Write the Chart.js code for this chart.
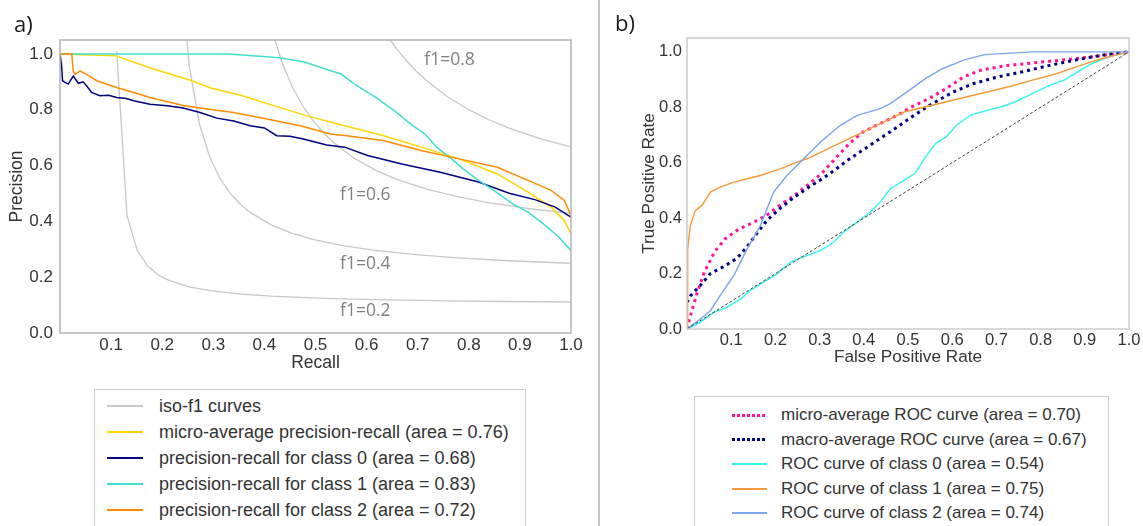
<!DOCTYPE html>
<html>
<head>
<meta charset="utf-8">
<script src="https://cdn.jsdelivr.net/npm/chart.js@4.4.1/dist/chart.umd.min.js"></script>
<style>
  html, body { margin: 0; padding: 0; background: #fff; }
  body { width: 1143px; height: 526px; position: relative; overflow: hidden; font-family: "Liberation Sans", Arial, sans-serif; }
  #prWrap { position: absolute; left: 0; top: 0; width: 598px; height: 380px; }
  #rocWrap { position: absolute; left: 600px; top: 0; width: 543px; height: 380px; }
  .divider { position: absolute; left: 598px; top: 0; width: 1.5px; height: 526px; background: #c8c8c8; }
  .tag { position: absolute; font-family: "Open Sans", sans-serif; font-size: 22px; line-height: 1; color: #1a1a1a; }
  .legend { position: absolute; border: 1px solid #cfcfcf; background: #fff; color: #333; }
  .legend .row { display: flex; align-items: center; white-space: nowrap; }
  .legend .swatch { display: block; flex: none; }
</style>
</head>
<body>
<div id="prWrap"><canvas id="prChart" width="598" height="380"></canvas></div>
<div id="rocWrap"><canvas id="rocChart" width="543" height="380"></canvas></div>
<div class="divider"></div>
<div class="tag" style="left:14px;top:12px">a)</div>
<div class="tag" style="left:615px;top:11px">b)</div>
<div class="legend" id="prLegend" style="left:94px;top:389px;width:430px;height:150px;padding-top:3px"></div>
<div class="legend" id="rocLegend" style="left:694px;top:396px;width:413px;height:140px;padding-top:6px"></div>

<script>
// ---- ticks ----
const xTicks = [0.1, 0.2, 0.3, 0.4, 0.5, 0.6, 0.7, 0.8, 0.9, 1.0];
const yTicks = [0.0, 0.2, 0.4, 0.6, 0.8, 1.0];

// ---- a) precision-recall ----
const prLabels = [
  'iso-f1 curves',
  'micro-average precision-recall (area = 0.76)',
  'precision-recall for class 0 (area = 0.68)',
  'precision-recall for class 1 (area = 0.83)',
  'precision-recall for class 2 (area = 0.72)'
];

const iso02X = [0.111, 0.1312, 0.1514, 0.1716, 0.1918, 0.212, 0.2524, 0.2929, 0.3535, 0.4141, 0.5151, 0.6161, 0.7576, 0.8788, 1.0];
const iso02Y = [1.009, 0.4205, 0.2946, 0.2397, 0.2089, 0.1893, 0.1656, 0.1518, 0.1394, 0.1318, 0.1241, 0.1194, 0.1152, 0.1128, 0.1111];
const iso04X = [0.2322, 0.2524, 0.2727, 0.2929, 0.3131, 0.3333, 0.3535, 0.3737, 0.4141, 0.4545, 0.4949, 0.5555, 0.6161, 0.6969, 0.7778, 0.8788, 1.0];
const iso04Y = [1.442, 0.9634, 0.7502, 0.6306, 0.5537, 0.5001, 0.4606, 0.4303, 0.3868, 0.3572, 0.3356, 0.3125, 0.2961, 0.2805, 0.2692, 0.2589, 0.25];
const iso06X = [0.3939, 0.4141, 0.4343, 0.4545, 0.4747, 0.4949, 0.5151, 0.5353, 0.5757, 0.6161, 0.6565, 0.7171, 0.7778, 0.8384, 0.9192, 1.0];
const iso06Y = [1.258, 1.089, 0.9701, 0.8825, 0.8152, 0.7618, 0.7184, 0.6825, 0.6264, 0.5847, 0.5525, 0.5158, 0.4884, 0.4672, 0.4453, 0.4286];
const iso08X = [0.6363, 0.6565, 0.6767, 0.6969, 0.7171, 0.7576, 0.798, 0.8384, 0.8788, 0.9394, 1.0];
const iso08Y = [1.077, 1.0238, 0.9782, 0.9389, 0.9046, 0.8474, 0.802, 0.765, 0.7342, 0.6966, 0.6667];

const isoLabels = ['f1=0.2', 'f1=0.4', 'f1=0.6', 'f1=0.8'];
const isoLabelX = [0.548, 0.548, 0.548, 0.713];
const isoLabelY = [0.079, 0.246, 0.496, 0.979];

const microRecall = [0, 0.108, 0.183, 0.257, 0.295, 0.355, 0.407, 0.482, 0.557, 0.632, 0.707, 0.781, 0.856, 0.916, 0.961, 0.987, 1.0];
const microPrecision = [1.0, 0.994, 0.946, 0.905, 0.878, 0.851, 0.821, 0.779, 0.743, 0.708, 0.666, 0.624, 0.570, 0.505, 0.451, 0.403, 0.356];

const class0Recall = [0, 0.003, 0.005, 0.01, 0.016, 0.026, 0.036, 0.045, 0.052, 0.062, 0.078, 0.095, 0.111, 0.13, 0.144, 0.176, 0.21, 0.241, 0.274, 0.307, 0.34, 0.372, 0.4, 0.424, 0.45, 0.476, 0.522, 0.557, 0.602, 0.669, 0.744, 0.819, 0.879, 0.931, 0.969, 1.0];
const class0Precision = [1.0, 0.96, 0.904, 0.898, 0.892, 0.921, 0.895, 0.9, 0.886, 0.862, 0.85, 0.852, 0.844, 0.84, 0.832, 0.82, 0.814, 0.806, 0.79, 0.77, 0.76, 0.743, 0.735, 0.707, 0.705, 0.695, 0.674, 0.666, 0.636, 0.606, 0.576, 0.541, 0.501, 0.477, 0.451, 0.415];

const class1Recall = [0, 0.33, 0.43, 0.48, 0.53, 0.55, 0.58, 0.617, 0.654, 0.69, 0.714, 0.737, 0.766, 0.789, 0.819, 0.849, 0.886, 0.916, 0.946, 0.976, 1.0];
const class1Precision = [1.0, 1.0, 0.986, 0.97, 0.94, 0.928, 0.887, 0.845, 0.797, 0.743, 0.714, 0.666, 0.624, 0.588, 0.547, 0.511, 0.463, 0.433, 0.391, 0.344, 0.296];

const class2Recall = [0, 0.023, 0.026, 0.029, 0.039, 0.052, 0.072, 0.111, 0.144, 0.176, 0.241, 0.274, 0.339, 0.405, 0.47, 0.529, 0.557, 0.632, 0.707, 0.781, 0.856, 0.916, 0.961, 0.987, 1.0];
const class2Precision = [1.0, 1.0, 0.939, 0.927, 0.939, 0.927, 0.904, 0.88, 0.862, 0.844, 0.815, 0.806, 0.79, 0.767, 0.743, 0.713, 0.708, 0.69, 0.654, 0.624, 0.594, 0.547, 0.511, 0.475, 0.421];

// ---- b) ROC ----
const rocLabels = [
  'micro-average ROC curve (area = 0.70)',
  'macro-average ROC curve (area = 0.67)',
  'ROC curve of class 0 (area = 0.54)',
  'ROC curve of class 1 (area = 0.75)',
  'ROC curve of class 2 (area = 0.74)'
];

const microFpr = [0, 0.008, 0.023, 0.039, 0.063, 0.086, 0.117, 0.149, 0.18, 0.211, 0.243, 0.274, 0.305, 0.336, 0.368, 0.399, 0.438, 0.477, 0.509, 0.548, 0.587, 0.626, 0.665, 0.72, 0.782, 0.845, 0.916, 1.0];
const microTpr = [0, 0.05, 0.13, 0.205, 0.28, 0.325, 0.36, 0.384, 0.41, 0.448, 0.482, 0.52, 0.562, 0.616, 0.67, 0.712, 0.742, 0.772, 0.802, 0.832, 0.868, 0.91, 0.934, 0.95, 0.96, 0.97, 0.982, 1.0];

const macroFpr = [0, 0.008, 0.03, 0.053, 0.083, 0.113, 0.136, 0.158, 0.181, 0.211, 0.243, 0.274, 0.321, 0.368, 0.415, 0.462, 0.509, 0.556, 0.603, 0.649, 0.704, 0.759, 0.822, 0.884, 0.939, 1.0];
const macroTpr = [0.096, 0.12, 0.157, 0.2, 0.225, 0.255, 0.297, 0.345, 0.392, 0.436, 0.476, 0.51, 0.558, 0.614, 0.664, 0.714, 0.766, 0.814, 0.856, 0.886, 0.91, 0.928, 0.952, 0.972, 0.988, 1.0];

const roc0Fpr = [0, 0.03, 0.06, 0.09, 0.121, 0.143, 0.173, 0.204, 0.234, 0.271, 0.302, 0.332, 0.354, 0.385, 0.415, 0.437, 0.46, 0.493, 0.516, 0.54, 0.563, 0.587, 0.61, 0.642, 0.681, 0.712, 0.743, 0.782, 0.822, 0.853, 0.884, 0.916, 0.955, 1.0];
const roc0Tpr = [0, 0.024, 0.06, 0.078, 0.108, 0.139, 0.169, 0.199, 0.241, 0.265, 0.283, 0.313, 0.349, 0.386, 0.422, 0.458, 0.506, 0.538, 0.562, 0.622, 0.67, 0.694, 0.736, 0.772, 0.79, 0.802, 0.82, 0.85, 0.88, 0.898, 0.928, 0.958, 0.982, 1.0];

const roc1Fpr = [0, 0.0015, 0.0075, 0.019, 0.034, 0.053, 0.075, 0.106, 0.136, 0.166, 0.211, 0.249, 0.274, 0.321, 0.368, 0.415, 0.462, 0.493, 0.54, 0.587, 0.634, 0.681, 0.728, 0.782, 0.837, 0.892, 0.939, 1.0];
const roc1Tpr = [0, 0.289, 0.373, 0.428, 0.446, 0.494, 0.512, 0.53, 0.542, 0.554, 0.578, 0.602, 0.616, 0.652, 0.688, 0.724, 0.76, 0.784, 0.802, 0.82, 0.838, 0.856, 0.874, 0.898, 0.922, 0.952, 0.976, 1.0];

const roc2Fpr = [0, 0.03, 0.053, 0.075, 0.106, 0.136, 0.166, 0.196, 0.226, 0.264, 0.302, 0.347, 0.385, 0.437, 0.46, 0.493, 0.54, 0.579, 0.626, 0.673, 0.782, 1.0];
const roc2Tpr = [0, 0.036, 0.066, 0.12, 0.193, 0.289, 0.373, 0.494, 0.554, 0.614, 0.675, 0.735, 0.771, 0.795, 0.813, 0.85, 0.904, 0.94, 0.97, 0.99, 1.0, 1.0];

const diagX = [0, 1];
const diagY = [0, 1];

// ---- helpers ----
function lineSet(xs, ys, color, width, order, dash) {
  return {
    data: xs.map((v, i) => ({ x: v, y: ys[i] })),
    borderColor: color,
    borderWidth: width,
    borderDash: dash || [],
    pointRadius: 0,
    showLine: true,
    fill: false,
    tension: 0,
    order: order
  };
}

function axes(o) {
  const font = (size) => ({ family: 'Liberation Sans', size: size });
  return {
    x: {
      type: 'linear', min: 0, max: 1,
      afterBuildTicks: s => { s.ticks = xTicks.map(v => ({ value: v })); },
      afterFit: s => { s.height = o.xH; },
      grid: { display: false, drawTicks: false },
      border: { display: false },
      ticks: { color: '#333', font: font(o.tick), padding: o.xPad, maxRotation: 0, autoSkip: false, callback: v => v.toFixed(1) },
      title: { display: true, text: o.xTitle, color: '#333', font: font(o.title), padding: { top: 0, bottom: o.xTitlePad } }
    },
    y: {
      type: 'linear', min: 0, max: 1.05,
      afterBuildTicks: s => { s.ticks = yTicks.map(v => ({ value: v })); },
      afterFit: s => { s.width = o.yW; },
      grid: { display: false, drawTicks: false },
      border: { display: false },
      ticks: { color: '#333', font: font(o.tick), padding: o.yPad, autoSkip: false, callback: v => v.toFixed(1) },
      title: { display: true, text: o.yTitle, color: '#333', font: font(o.title), padding: { top: o.yTitlePad, bottom: 0 } }
    }
  };
}

const framePlugin = {
  id: 'frame',
  afterDraw(chart, args, opts) {
    const { ctx, chartArea: a } = chart;
    ctx.save();
    ctx.strokeStyle = opts.color;
    ctx.lineWidth = 1.5;
    ctx.strokeRect(a.left, a.top, a.right - a.left, a.bottom - a.top);
    ctx.restore();
  }
};

const isoLabelPlugin = {
  id: 'isoLabels',
  afterDatasetsDraw(chart) {
    const { ctx, scales: { x, y } } = chart;
    ctx.save();
    ctx.font = '17.5px "Open Sans"';
    ctx.fillStyle = '#808080';
    ctx.textBaseline = 'middle';
    isoLabels.forEach((t, i) => ctx.fillText(t, x.getPixelForValue(isoLabelX[i]), y.getPixelForValue(isoLabelY[i])));
    ctx.restore();
  }
};

const isoColor = '#c8c8c8';
const prColors = [isoColor, '#FFD700', '#000080', '#40E0D0', '#FF8C00'];
const rocColors = ['#FF1493', '#000080', '#33f5f5', '#f59a3a', '#7aa5ef'];

// ---- a) chart ----
new Chart(document.getElementById('prChart'), {
  type: 'scatter',
  data: {
    datasets: [
      lineSet(iso02X, iso02Y, isoColor, 1.3, 10),
      lineSet(iso04X, iso04Y, isoColor, 1.3, 10),
      lineSet(iso06X, iso06Y, isoColor, 1.3, 10),
      lineSet(iso08X, iso08Y, isoColor, 1.3, 10),
      lineSet(microRecall, microPrecision, prColors[1], 1.5, 4),
      lineSet(class0Recall, class0Precision, prColors[2], 1.5, 3),
      lineSet(class1Recall, class1Precision, prColors[3], 1.5, 2),
      lineSet(class2Recall, class2Precision, prColors[4], 1.5, 1)
    ]
  },
  options: {
    responsive: false,
    animation: false,
    layout: { padding: { left: 0, top: 40, right: 27, bottom: 5 } },
    scales: axes({ xTitle: 'Recall', yTitle: 'Precision', tick: 17, title: 17.5, xH: 42, xPad: 2, xTitlePad: 1.5, yW: 60, yPad: 7, yTitlePad: 7 }),
    plugins: { legend: { display: false }, tooltip: { enabled: false }, frame: { color: '#b4b4b4' } }
  },
  plugins: [framePlugin, isoLabelPlugin]
});

// ---- b) chart ----
new Chart(document.getElementById('rocChart'), {
  type: 'scatter',
  data: {
    datasets: [
      lineSet(microFpr, microTpr, rocColors[0], 3, 6, [3, 4]),
      lineSet(macroFpr, macroTpr, rocColors[1], 3, 5, [3, 4]),
      lineSet(roc0Fpr, roc0Tpr, rocColors[2], 1.4, 4),
      lineSet(roc1Fpr, roc1Tpr, rocColors[3], 1.4, 3),
      lineSet(roc2Fpr, roc2Tpr, rocColors[4], 1.4, 2),
      lineSet(diagX, diagY, '#444', 1, 1, [3, 2])
    ]
  },
  options: {
    responsive: false,
    animation: false,
    layout: { padding: { left: 30, top: 38, right: 14, bottom: 11 } },
    scales: axes({ xTitle: 'False Positive Rate', yTitle: 'True Positive Rate', tick: 16.5, title: 17.2, xH: 40, xPad: 1.5, xTitlePad: 1, yW: 57, yPad: 5, yTitlePad: 9 }),
    plugins: { legend: { display: false }, tooltip: { enabled: false }, frame: { color: '#cccccc' } }
  },
  plugins: [framePlugin]
});

// ---- legends (HTML) ----
function buildLegend(el, labels, colors, styles, opt) {
  labels.forEach((text, i) => {
    const row = document.createElement('div');
    row.className = 'row';
    row.style.height = opt.rowH + 'px';
    const sw = document.createElement('div');
    sw.className = 'swatch';
    sw.style.marginLeft = opt.swLeft + 'px';
    sw.style.width = opt.swW + 'px';
    if (styles[i] === 'dotted') {
      sw.style.height = '3px';
      sw.style.backgroundImage = `repeating-linear-gradient(90deg, ${colors[i]} 0px, ${colors[i]} 3px, transparent 3px, transparent 5px)`;
    } else {
      sw.style.height = '2px';
      sw.style.background = colors[i];
    }
    const tx = document.createElement('span');
    tx.textContent = text;
    tx.style.marginLeft = opt.gap + 'px';
    tx.style.fontSize = opt.font + 'px';
    row.appendChild(sw);
    row.appendChild(tx);
    el.appendChild(row);
  });
}

buildLegend(document.getElementById('prLegend'), prLabels, prColors,
  ['solid', 'solid', 'solid', 'solid', 'solid'],
  { rowH: 26, swLeft: 12, swW: 36, gap: 16, font: 18 });
buildLegend(document.getElementById('rocLegend'), rocLabels, rocColors,
  ['dotted', 'dotted', 'solid', 'solid', 'solid'],
  { rowH: 24.5, swLeft: 37, swW: 35, gap: 14, font: 17 });
</script>
</body>
</html>
